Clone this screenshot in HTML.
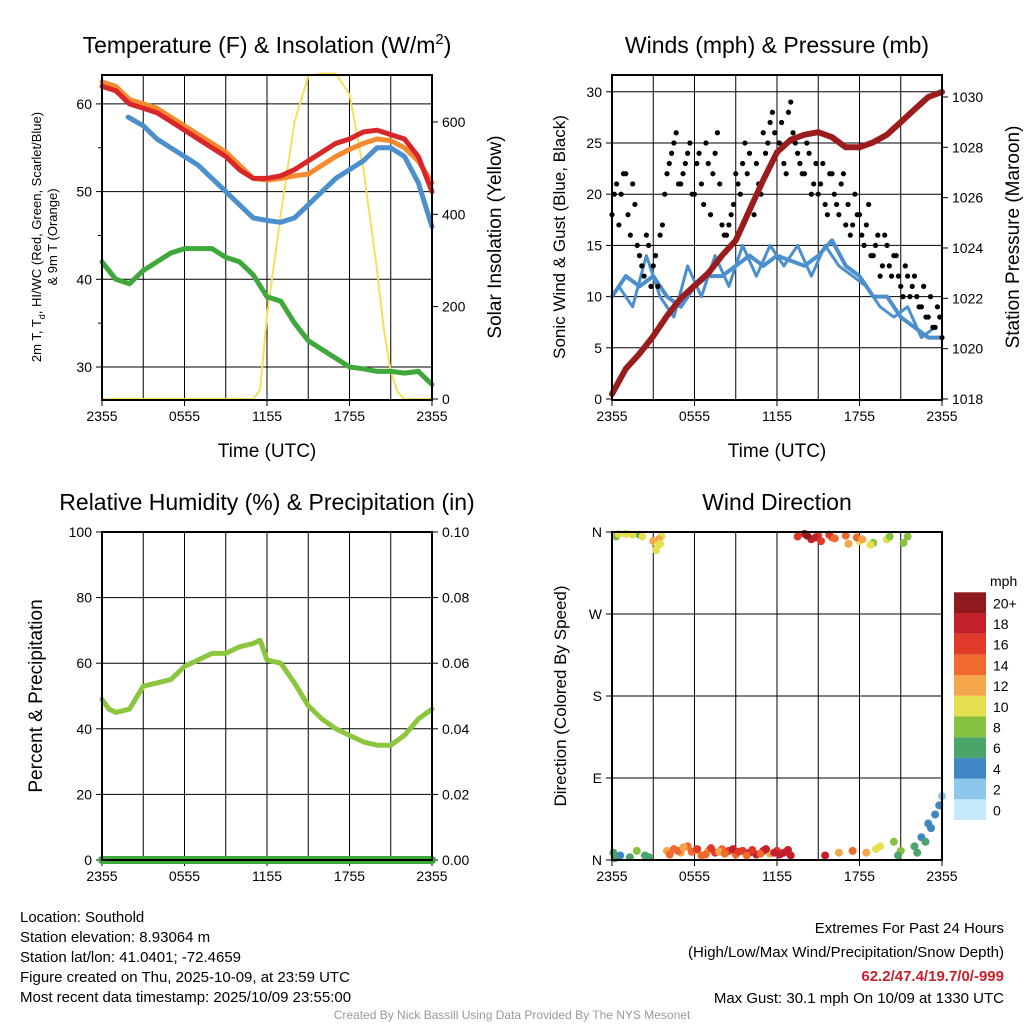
<!DOCTYPE html>
<html><head><meta charset="utf-8"><style>
body{margin:0;background:#fff}
svg{font-family:"Liberation Sans",sans-serif}
</style></head><body>
<svg id="s" width="1024" height="1024" viewBox="0 0 1024 1024" xmlns="http://www.w3.org/2000/svg">
<g id="g1"></g>
<g id="g2"></g>
<g id="g3"></g>
<g id="g4"></g>
<g font-size="15" fill="#000">
<text x="20" y="922">Location: Southold</text>
<text x="20" y="942">Station elevation: 8.93064 m</text>
<text x="20" y="962">Station lat/lon: 41.0401; -72.4659</text>
<text x="20" y="982">Figure created on Thu, 2025-10-09, at 23:59 UTC</text>
<text x="20" y="1002">Most recent data timestamp: 2025/10/09 23:55:00</text>
</g>
<g font-size="15" text-anchor="end">
<text x="1004" y="933">Extremes For Past 24 Hours</text>
<text x="1004" y="957">(High/Low/Max Wind/Precipitation/Snow Depth)</text>
<text x="1004" y="981" fill="#c8202a" font-weight="bold">62.2/47.4/19.7/0/-999</text>
<text x="1004" y="1003">Max Gust: 30.1 mph On 10/09 at 1330 UTC</text>
</g>
<text x="512" y="1019" font-size="12" fill="#999" text-anchor="middle">Created By Nick Bassill Using Data Provided By The NYS Mesonet</text>
</svg>
<script>
const hours=[0,1,2,3,4,5,6,7,8,9,10,11,12,13,14,15,16,17,18,19,20,21,22,23,24];
const tempRed=[62,61.5,60,59.5,59,58,57,56,55,54,52.5,51.5,51.5,51.8,52.5,53.5,54.5,55.5,56,56.8,57,56.5,56,54,50];
const temp9m=[62.5,62,60.5,60,59.5,58.5,57.5,56.5,55.5,54.5,53,51.5,51.3,51.5,51.8,52,53,54,54.8,55.5,56,55.8,55,53.5,51];
const hiwcHours=[1.9,3,4,5,6,7,8,9,10,11,12,13,14,15,16,17,18,19,20,21,22,23,24];
const hiwc=[58.5,57.5,56,55,54,53,51.5,50,48.5,47,46.7,46.5,47,48.5,50,51.5,52.5,53.5,55,55,54,51,46];
const dewpt=[42,40,39.5,41,42,43,43.5,43.5,43.5,42.5,42,40.5,38,37.5,35,33,32,31,30,29.8,29.5,29.5,29.3,29.5,28];
const solarHours=[0,11,11.5,12,13,14,15,16,17,18,19,20,20.5,21,21.5,22,24];
const solar=[0,0,20,180,400,600,700,705,705,660,500,280,150,60,15,0,0];
const windSpd=[10,12,11,12,10,9,11,12,12,13,14,13,14,13.5,13,14,15.5,13,12,10,10,8,7,6,6];
const windSpdB=[11,9,14,10,8,13,10,14,11,15,12,15,13,15,12,15,13,12,11,9,8,9,6,7];
const gusts=[18,21,20,22,16,19,14,12,15,13,11,17,22,24,26,21,23,25,20,24,19,23,22,26,17,16,18,22,20,25,24,18,21,26,25,28,24,27,22,29,25,23,22,24,21,20,23,18,22,19,21,17,16,20,18,15,19,14,16,13,15,12,14,11,13,10,12,9,11,8,7,9,6];
const gustsB=[20,17,22,18,21,15,13,16,11,14,16,20,23,25,21,22,24,20,23,21,25,18,24,21,16,17,19,21,23,22,19,23,20,24,27,26,25,23,28,26,24,22,25,20,23,21,19,22,20,18,22,19,17,18,16,17,14,15,12,16,13,14,12,10,12,11,10,9,8,10,7,8];
const pressure=[1018.2,1019.2,1019.8,1020.5,1021.3,1022,1022.5,1023,1023.7,1024.3,1025.5,1026.7,1027.8,1028.3,1028.5,1028.6,1028.4,1028,1028,1028.2,1028.5,1029,1029.5,1030,1030.2];
const rhHours=[0,0.5,1,2,3,4,5,6,7,8,9,10,11,11.5,12,13,14,15,16,17,18,19,20,21,22,23,24];
const rh=[49,46,45,46,53,54,55,59,61,63,63,65,66,67,61,60,54,47,43,40,38,36,35,35,38,43,46];
const dirHours=[0.1,0.3,0.6,1,1.3,1.8,2,2.4,3,3.3,3.6,4,4.5,5,5.5,6,6.5,7,7.5,8,8.5,9,9.5,10,10.5,11,11.5,12,12.5,13,13.5,14,14.5,15,15.5,16,16.5,17,17.5,18,18.5,19,19.5,20,20.5,21,21.5,22,22.5,23,23.5,24,0.5,1.5,2.2,3.2,3.4,3.5,4.2,4.8,5.2,5.8,6.2,6.8,7.2,7.8,8.2,8.8,9.2,9.8,10.2,10.8,11.2,11.8,12.2,12.8,14.2,14.8,15.2,15.8,16.2,17.2,17.8,18.2,18.8,19.2,20.2,20.8,21.2,22.2,22.8,23.2,23.8,2.7,0.2];
const dirDeg=[8,355,5,358,3,10,357,5,350,345,355,10,12,8,15,10,5,10,8,12,10,6,10,8,6,10,7,10,8,5,355,358,352,356,5,354,8,356,10,350,8,348,15,352,20,10,355,15,25,40,50,70,358,357,355,340,352,347,6,10,14,9,12,6,13,9,7,12,9,5,11,7,12,8,6,11,356,354,350,357,353,347,354,352,346,12,355,5,348,8,20,35,60,3,2];
const dirSpd=[5,8,4,10,6,7,6,5,11,10,9,12,14,12,13,12,14,12,15,14,16,14,16,18,17,18,12,16,18,17,16,18,17,16,18,14,12,14,13,10,12,8,9,9,8,7,8,5,4,3,3,2,9,9,10,10,11,10,13,14,12,13,15,13,16,12,14,17,15,13,16,14,17,18,17,18,19,17,16,15,14,12,13,11,9,10,8,6,8,6,5,4,3,6,5];
const xTicks=["2355","0555","1155","1755","2355"];
const cbLabels=["0","2","4","6","8","10","12","14","16","18","20+"];
const cbColors=["#c6e9fa","#8dc8ec","#3f86c4","#4aa56a","#86c240","#e5e052","#f6a64a","#ef6a2c","#e03a2a","#c2202a","#8e1a1e"];
const NS="http://www.w3.org/2000/svg";
function mk(p,tag,at,txt){const e=document.createElementNS(NS,tag);for(const k in at)e.setAttribute(k,at[k]);if(txt!==undefined)e.textContent=txt;p.appendChild(e);return e;}
function panel(g,x0,y0,x1,y1,title){
 for(let i=1;i<8;i++){const x=x0+(x1-x0)*i/8;const l=mk(g,'line',{x1:x,x2:x,y1:y0,y2:y1,stroke:'#000','stroke-width':1});}
 xTicks.forEach((t,i)=>{const x=x0+(x1-x0)*i/4;const e=mk(g,'text',{x:x,y:y1+21,'font-size':14,'text-anchor':'middle'},t);mk(g,'line',{x1:x,x2:x,y1:y1,y2:y1+6,stroke:'#000'});});
 if(title){const t=mk(g,'text',{x:(x0+x1)/2,y:y0-22,'font-size':23,'text-anchor':'middle'},title);}
}
function frame(g,x0,y0,x1,y1){const r=mk(g,'rect',{x:x0,y:y0,width:x1-x0,height:y1-y0,fill:'none',stroke:'#000','stroke-width':2});}
function yTicks(g,x0,x1,vals,fy,labFn,side){vals.forEach(v=>{const y=fy(v);if(side!=='right'){const e=mk(g,'text',{x:x0-10,y:y+5,'font-size':14,'text-anchor':'end'},labFn(v));mk(g,'line',{x1:x0-6,x2:x0,y1:y,y2:y,stroke:'#000'});}else{const e=mk(g,'text',{x:x1+10,y:y+5,'font-size':14},labFn(v));mk(g,'line',{x1:x1,x2:x1+6,y1:y,y2:y,stroke:'#000'});}});}
function hgrid(g,x0,x1,ys){ys.forEach(y=>{const l=mk(g,'line',{x1:x0,x2:x1,y1:y,y2:y,stroke:'#000'});});}
function line(g,xs,ys,fx,fy,col,w,name){const d=xs.map((h,i)=>(i?'L':'M')+fx(h).toFixed(1)+' '+fy(ys[i]).toFixed(1)).join('');const p=mk(g,'path',{d:d,fill:'none',stroke:col,'stroke-width':w,'stroke-linejoin':'round','stroke-linecap':'round'});}
function vtext(g,x,y,t,fs,name){const e=mk(g,'text',{x:0,y:0,'font-size':fs,'text-anchor':'middle',transform:`translate(${x},${y}) rotate(-90)`},t);return e;}

// Panel 1
(function(){const g=document.getElementById('g1');const x0=102,x1=432,y0=75,y1=400;
const fx=h=>x0+h*(x1-x0)/24;const fy=v=>367-(v-30)*8.77;const fs=v=>399-v*0.4617;
panel(g,x0,y0,x1,y1,'');
const tt=mk(g,'text',{x:267,y:53,'font-size':23,'text-anchor':'middle'});
tt.innerHTML='Temperature (F) &amp; Insolation (W/m<tspan dy="-9" font-size="15">2</tspan><tspan dy="9">)</tspan>';
hgrid(g,x0,x1,[30,40,50,60].map(fy));
[35,45,55].forEach(v=>mk(g,'line',{x1:x0-4,x2:x0,y1:fy(v),y2:fy(v),stroke:'#000'}));
yTicks(g,x0,x1,[30,40,50,60],fy,v=>v);
yTicks(g,x0,x1,[0,200,400,600],fs,v=>v,'right');
line(g,solarHours,solar,fx,fs,'#f5e05a',2,'solar-insolation-line');
line(g,hours,dewpt,fx,fy,'#3fa83a',5,'dewpoint-line');
line(g,hiwcHours,hiwc,fx,fy,'#4b8fcc',5,'heat-index-windchill-line');
line(g,hours,temp9m,fx,fy,'#f58a2e',5,'temp-9m-line');
line(g,hours,tempRed,fx,fy,'#d9262a',5,'temp-2m-line');
frame(g,x0,y0,x1,y1);
const a=mk(g,'text',{x:0,y:0,'font-size':13,'text-anchor':'middle',transform:'translate(41,237) rotate(-90)'});
a.innerHTML='2m T, T<tspan dy="4" font-size="9">d</tspan><tspan dy="-4">, HI/WC (Red, Green, Scarlet/Blue)</tspan>';
vtext(g,57,237,'& 9m T (Orange)',13,'y-axis-title-2');
vtext(g,501,237,'Solar Insolation (Yellow)',19,'y2-axis-title');
const xl=mk(g,'text',{x:267,y:457,'font-size':19,'text-anchor':'middle'},'Time (UTC)');
})();

// Panel 2
(function(){const g=document.getElementById('g2');const x0=612,x1=942,y0=75,y1=400;
const fx=h=>x0+h*(x1-x0)/24;const fy=v=>399-v*10.24;const fp=p=>399-(p-1018)*25.17;
panel(g,x0,y0,x1,y1,'Winds (mph) & Pressure (mb)');
hgrid(g,x0,x1,[5,10,15,20,25,30].map(fy));
yTicks(g,x0,x1,[0,5,10,15,20,25,30],fy,v=>v);
yTicks(g,x0,x1,[1018,1020,1022,1024,1026,1028,1030],fp,v=>v,'right');
line(g,hours,windSpd,fx,fy,'#4b8fcc',4,'sonic-wind-line');
line(g,windSpdB.map((v,i)=>i+0.5),windSpdB,fx,fy,'#4b8fcc',3,'sonic-wind-line-detail');
gusts.forEach((v,i)=>{const h=i/3;const c=mk(g,'circle',{cx:fx(h),cy:fy(v),r:2.6,fill:'#000'});});
gustsB.forEach((v,i)=>{const h=i/3+1/6;const c=mk(g,'circle',{cx:fx(h),cy:fy(v),r:2.6,fill:'#000'});});
line(g,hours,pressure,fx,fp,'#9b1c1c',6,'pressure-line');
frame(g,x0,y0,x1,y1);
vtext(g,565,237,'Sonic Wind & Gust (Blue, Black)',17,'y-axis-title');
vtext(g,1019,237,'Station Pressure (Maroon)',19,'y2-axis-title');
const xl=mk(g,'text',{x:777,y:457,'font-size':19,'text-anchor':'middle'},'Time (UTC)');
})();

// Panel 3
(function(){const g=document.getElementById('g3');const x0=102,x1=432,y0=532,y1=860;
const fx=h=>x0+h*(x1-x0)/24;const fy=v=>860-v*3.28;
panel(g,x0,y0,x1,y1,'Relative Humidity (%) & Precipitation (in)');
hgrid(g,x0,x1,[20,40,60,80].map(fy));
yTicks(g,x0,x1,[0,20,40,60,80,100],fy,v=>v);
yTicks(g,x0,x1,[0,20,40,60,80,100],fy,v=>(v/1000).toFixed(2),'right');
line(g,rhHours,rh,fx,fy,'#8cc63f',5,'humidity-line');
line(g,[0,24],[0,0],fx,fy,'#3fa83a',8,'precipitation-line');
frame(g,x0,y0,x1,y1);
vtext(g,42,696,'Percent & Precipitation',19,'y-axis-title');
})();

// Panel 4
(function(){const g=document.getElementById('g4');const x0=612,x1=942,y0=532,y1=860;
const fx=h=>x0+h*(x1-x0)/24;const fy=d=>860-d/360*328;
panel(g,x0,y0,x1,y1,'Wind Direction');
hgrid(g,x0,x1,[90,180,270].map(fy));
const labs=['N','E','S','W','N'];
yTicks(g,x0,x1,[0,90,180,270,360],fy,v=>labs[v/90]);
function col(s){return cbColors[Math.min(10,Math.floor((s+1)/2))];}
dirHours.forEach((h,i)=>{const c=mk(g,'circle',{cx:fx(h),cy:fy(dirDeg[i]),r:4,fill:col(dirSpd[i])});});
frame(g,x0,y0,x1,y1);
vtext(g,566,696,'Direction (Colored By Speed)',17,'y-axis-title');
cbColors.forEach((c,i)=>{const y=820-(i+1)*20.7;const r=mk(g,'rect',{x:954,y:y,width:32,height:20.7,fill:c});
const t=mk(g,'text',{x:993,y:y+16,'font-size':14},cbLabels[i]);});
const m=mk(g,'text',{x:990,y:586,'font-size':14},'mph');
})();
</script>
</body></html>
